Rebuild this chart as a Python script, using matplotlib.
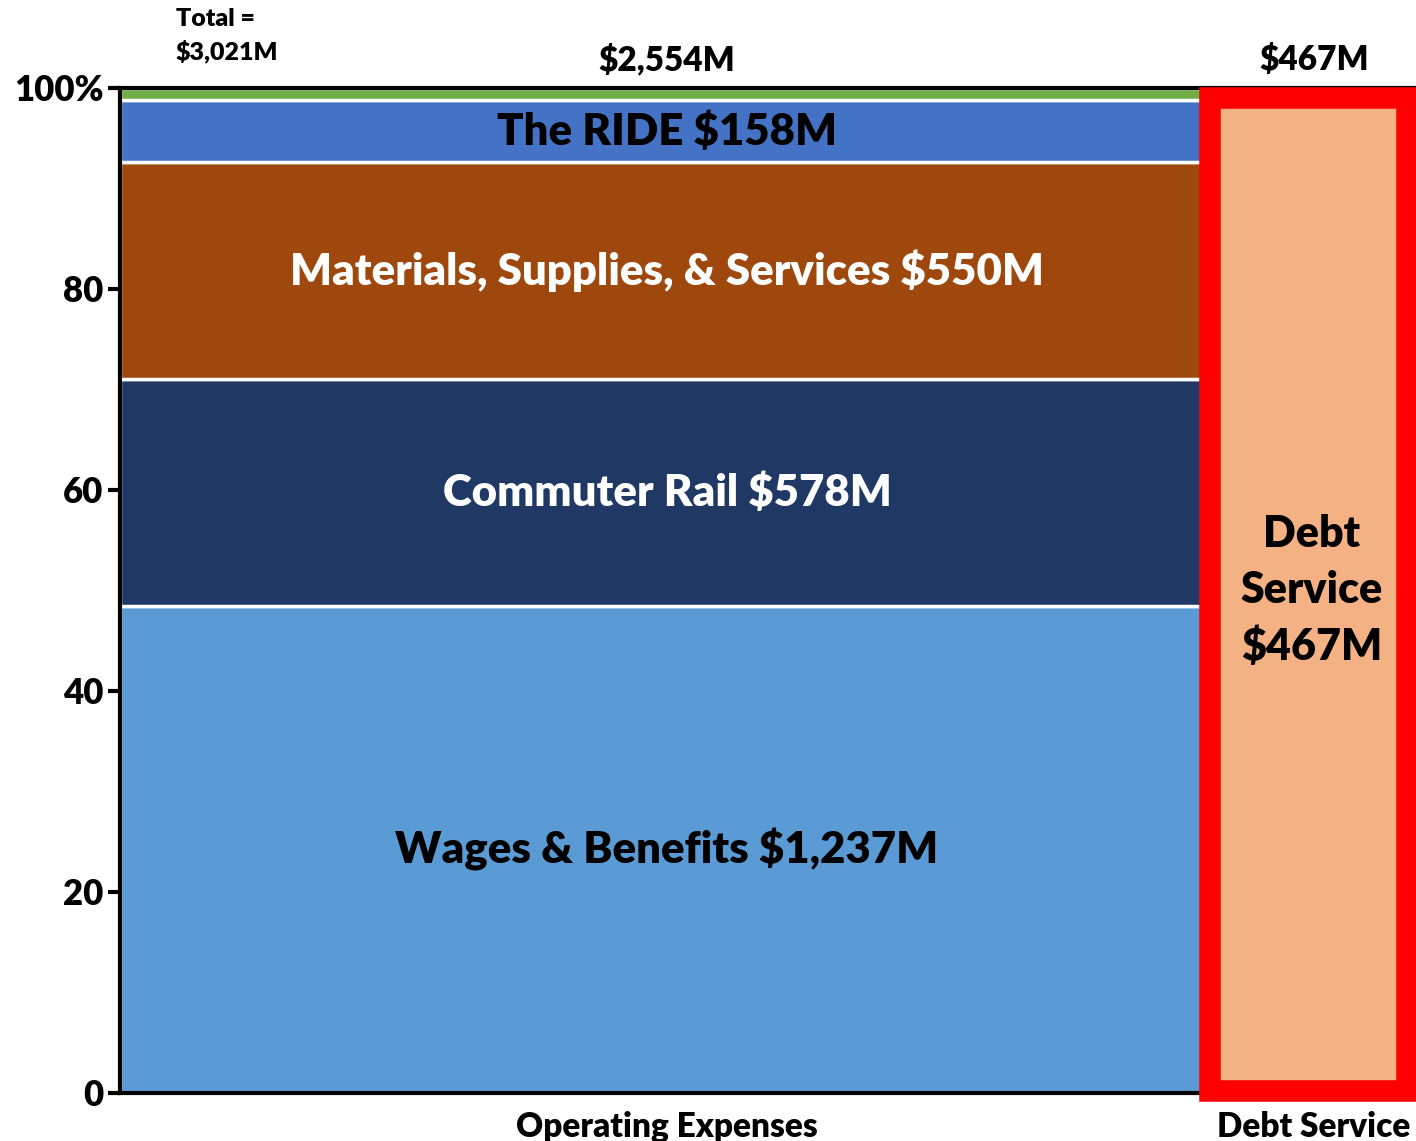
import matplotlib.pyplot as plt
from matplotlib.patches import Rectangle
import numpy as np

plt.rcParams['font.family'] = ['Lato', 'DejaVu Sans']
plt.rcParams['font.weight'] = 'heavy'

# data ($M)
groups = ['Operating Expenses', 'Debt Service']
group_totals = [2554, 467]
op_names = ['Wages & Benefits', 'Commuter Rail', 'Materials, Supplies, & Services', 'The RIDE', 'Other']
op_values = [1237, 578, 550, 158, 31]
op_colors = ['#5B9BD5', '#203864', '#9E480E', '#4472C4', '#70AD47']
op_text_colors = ['black', 'white', 'white', 'black', None]
debt_value = 467
grand_total = 3021

fig = plt.figure(figsize=(14.16, 11.41), dpi=100)
ax = fig.add_axes([0.0847, 0.0421, 0.9139, 0.8808])

lefts = np.concatenate([[0], np.cumsum(group_totals)[:-1]])
op_pct = np.array(op_values) / group_totals[0] * 100
bottoms = np.concatenate([[0], np.cumsum(op_pct)[:-1]])

for i, name in enumerate(op_names):
    ax.bar(lefts[0], op_pct[i], width=group_totals[0], bottom=bottoms[i], align='edge',
           color=op_colors[i], edgecolor='white', linewidth=2.5, zorder=2)
    if op_text_colors[i]:
        ax.text(lefts[0] + group_totals[0] / 2, bottoms[i] + op_pct[i] / 2,
                f'{name} ${op_values[i]:,}M', ha='center', va='center',
                fontsize=31.5, color=op_text_colors[i], zorder=4)

# debt service bar with red outline
ax.bar(lefts[1], 100, width=group_totals[1], align='edge', color='#F4B183', linewidth=0, zorder=2)
ax.add_patch(Rectangle((lefts[1] - 10, 0.15), group_totals[1] * 0.985, 98.85, fill=False,
                       edgecolor='#FF0000', linewidth=15.5, joinstyle='miter',
                       clip_on=False, zorder=5))
ax.text(lefts[1] + group_totals[1] / 2 - 5, 50, f'Debt\nService\n${debt_value}M', ha='center',
        va='center', fontsize=31, linespacing=1.5, zorder=6)

# totals above bars
for left, tot in zip(lefts, group_totals):
    ax.text(left + tot / 2, 101.2, f'${tot:,}M', ha='center', va='bottom', fontsize=24)
ax.text(0.043, 1.025, f'Total =\n${grand_total:,}M', transform=ax.transAxes, ha='left',
        va='bottom', fontsize=18, linespacing=1.45)

ax.set_xlim(0, grand_total)
ax.set_ylim(0, 100)
ax.set_xticks(lefts + np.array(group_totals) / 2)
ax.set_xticklabels(groups, fontsize=24)
ax.tick_params(axis='x', length=0, pad=13)
ax.set_yticks([0, 20, 40, 60, 80, 100])
ax.set_yticklabels(['0', '20', '40', '60', '80', '100%'], fontsize=25)
ax.tick_params(axis='y', length=9, width=3, pad=3)
ax.spines['right'].set_visible(False)
for s in ['left', 'bottom', 'top']:
    ax.spines[s].set_linewidth(3)
    ax.spines[s].set_zorder(3)

plt.savefig('out.png', dpi=100)
